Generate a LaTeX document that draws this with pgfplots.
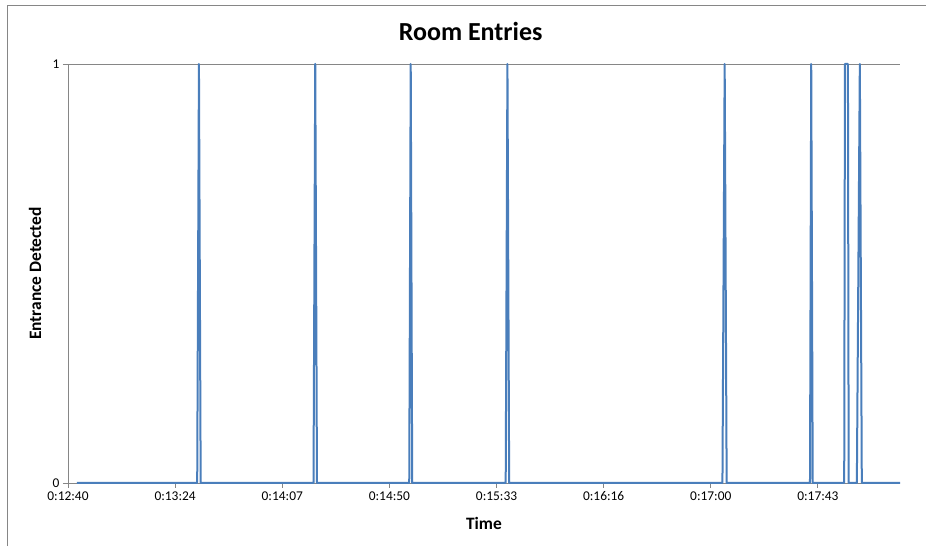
\documentclass[border=0pt]{standalone}
\usepackage{fontspec}
\setmainfont{Carlito}
\usepackage{pgfplots}
\pgfplotsset{compat=1.18}
\definecolor{lineblue}{HTML}{4A7EBB}
\definecolor{axgray}{HTML}{868686}
\begin{document}
\begin{tikzpicture}[x=1pt,y=1pt]
\useasboundingbox (0,0) rectangle (926,546);
\fill[white] (0,0) rectangle (926,546);
\draw[axgray, line width=1pt] (7.5,0) -- (7.5,540.5) -- (926,540.5);
\begin{axis}[
  at={(68pt,63pt)}, anchor=south west,
  scale only axis, width=832pt, height=419pt,
  xmin=0, xmax=335.5, ymin=0, ymax=1,
  axis x line*=bottom, axis y line*=left,
  axis line style={axgray, line width=0.9pt, -},
  xtick={0,43.2,86.4,129.6,172.8,216,259.2,302.4},
  xticklabels={0:12:40,0:13:24,0:14:07,0:14:50,0:15:33,0:16:16,0:17:00,0:17:43},
  ytick={0,1},
  ymajorgrids, grid style={axgray, line width=0.9pt},
  tick style={axgray, line width=0.9pt},
  major tick length=5pt, tick align=outside,
  ticklabel style={font=\fontsize{13.4}{15}\selectfont, text=black},
  /pgf/number format/assume math mode=true,
  clip=false,
  title={Room Entries},
  title style={at={(axis description cs:0.484,1)}, anchor=center, yshift=27pt, font=\fontsize{26}{30}\selectfont\bfseries},
  xlabel={Time},
  xlabel style={at={(axis description cs:0.5,0)}, anchor=center, yshift=-40pt, font=\fontsize{17.4}{20}\selectfont\bfseries},
  ylabel={Entrance Detected},
  ylabel style={at={(axis description cs:0,0.5)}, anchor=center, yshift=33pt, font=\fontsize{17.4}{20}\selectfont\bfseries},
]
\addplot[lineblue, line width=2pt, line join=round, mark=none] coordinates {
  (3.6,0) (52.1,0) (52.8,1) (53.5,0)
  (99.0,0) (99.7,1) (100.4,0)
  (137.6,0) (138.2,1) (138.8,0)
  (176.5,0) (177.2,1) (177.9,0)
  (263.9,0) (264.8,1) (265.6,0)
  (299.2,0) (299.7,1) (300.3,0)
  (313.0,0) (313.3,1) (314.5,1) (314.8,0)
  (318.1,0) (319.3,1) (320.1,0)
  (335.5,0)
};
\end{axis}
\end{tikzpicture}
\end{document}
